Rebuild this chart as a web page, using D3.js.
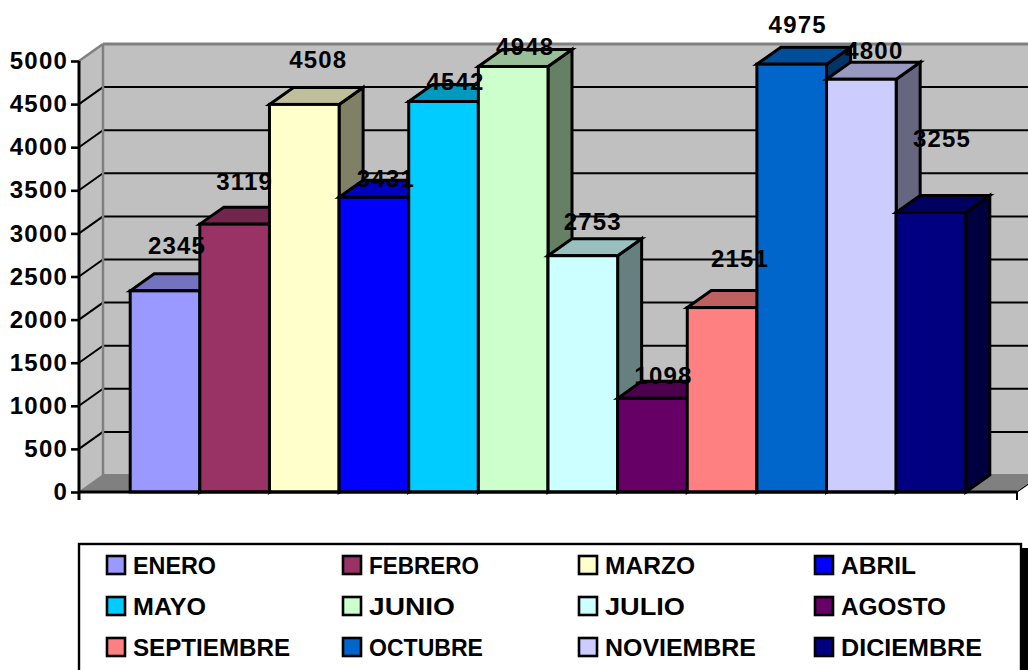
<!DOCTYPE html>
<html><head><meta charset="utf-8">
<script src="https://cdn.jsdelivr.net/npm/d3@7"></script>
<style>html,body{margin:0;padding:0;background:#fff;overflow:hidden}svg{display:block}
text{font-family:"Liberation Sans",Arial,sans-serif;font-weight:bold;fill:#000}</style></head>
<body><svg id="c" width="1028" height="670"></svg>
<script>
const months=["ENERO","FEBRERO","MARZO","ABRIL","MAYO","JUNIO","JULIO","AGOSTO","SEPTIEMBRE","OCTUBRE","NOVIEMBRE","DICIEMBRE"];
const values=[2345,3119,4508,3431,4542,4948,2753,1098,2151,4975,4800,3255];
const colors=["#9999FF","#993366","#FFFFCC","#0000FF","#00CCFF","#CCFFCC","#CCFFFF","#660066","#FF8080","#0066CC","#CCCCFF","#000080"];
const yTicks=[0,500,1000,1500,2000,2500,3000,3500,4000,4500,5000];

// manual label placement of the original chart: [dx, dy] from the bar's back-top centre
const labelNudge=[[0,-28],[-2,-25],[2,-27],[0,-1],[0,-2],[0,-2],[-2,-16],[-1,-5],[6,-31],[-6,-22],[1,-11],[-1,-56]];
// rendered legend text widths of the original's hinted type
const legendWidths=[83,110,90,75,73,86,80,105,157,114,151,141];

const svg=d3.select("#c");
const y=d3.scaleLinear().domain([0,5000]).range([492,61]);
const x=d3.scaleBand().domain(months).range([130.2,965.8]);
const dx=24,dy=-17,left=79,right=1017,base=y(0);
const shade=(c,k)=>{const r=d3.rgb(c);return d3.rgb(r.r*k,r.g*k,r.b*k).formatHex();};
const pts=a=>a.map(p=>p.join(",")).join(" ");
const ink="#000",lw=3;

// back wall, side wall, floor
svg.append("rect").attr("x",left+dx).attr("y",y(5000)+dy).attr("width",1028-left-dx).attr("height",base-y(5000))
  .attr("fill","#c0c0c0");
svg.append("polygon").attr("points",pts([[left,base],[left,y(5000)],[left+dx,y(5000)+dy],[left+dx,base+dy]])).attr("fill","#c0c0c0");
svg.append("polygon").attr("points",pts([[left,base],[left+dx,base+dy],[right+dx,base+dy],[right,base]])).attr("fill","#808080");

const gridTicks=yTicks.filter(t=>t>0&&t<5000);
svg.selectAll(".gb").data(gridTicks).join("line").attr("x1",left+dx).attr("x2",1028)
  .attr("y1",d=>y(d)+dy).attr("y2",d=>y(d)+dy).attr("stroke",ink).attr("stroke-width",2);
svg.selectAll(".gs").data(gridTicks).join("line").attr("x1",left).attr("x2",left+dx)
  .attr("y1",d=>y(d)).attr("y2",d=>y(d)+dy).attr("stroke",ink).attr("stroke-width",2);
const gray="#808080";
svg.append("line").attr("x1",left+dx).attr("x2",1028).attr("y1",y(5000)+dy).attr("y2",y(5000)+dy).attr("stroke",gray).attr("stroke-width",3);
svg.append("line").attr("x1",left+dx).attr("x2",left+dx).attr("y1",y(5000)+dy).attr("y2",base+dy).attr("stroke",gray).attr("stroke-width",2.5);
svg.append("line").attr("x1",left).attr("x2",left+dx).attr("y1",y(5000)).attr("y2",y(5000)+dy).attr("stroke",gray).attr("stroke-width",2.5);
svg.append("line").attr("x1",left+dx).attr("x2",1028).attr("y1",base+dy).attr("y2",base+dy).attr("stroke",gray).attr("stroke-width",2);
svg.append("line").attr("x1",left).attr("x2",left+dx).attr("y1",base).attr("y2",base+dy).attr("stroke",gray).attr("stroke-width",1.5);
svg.append("line").attr("x1",right).attr("x2",right+dx).attr("y1",base).attr("y2",base+dy).attr("stroke","#fff").attr("stroke-width",1.5);
svg.append("line").attr("x1",right).attr("x2",right+dx).attr("y1",base).attr("y2",base+dy).attr("stroke",ink).attr("stroke-width",1.2);

// bars (the original's front faces sit one pixel below the tick line)
const barTop=v=>y(v)+1;
const bars=svg.append("g").selectAll("g").data(months).join("g");
bars.each(function(m,i){
  const g=d3.select(this),x0=x(m),x1=x0+x.bandwidth(),t=barTop(values[i]);
  g.append("polygon").attr("points",pts([[x1,base],[x1+dx,base+dy],[x1+dx,t+dy],[x1,t]])).attr("fill",shade(colors[i],.5));
  g.append("polygon").attr("points",pts([[x0,t],[x0+dx,t+dy],[x1+dx,t+dy],[x1,t]])).attr("fill",shade(colors[i],.75));
  g.append("rect").attr("x",x0).attr("y",t).attr("width",x.bandwidth()).attr("height",base-t).attr("fill",colors[i]);
  g.selectAll("*").attr("stroke",ink).attr("stroke-width",lw).attr("stroke-linejoin","miter");
});

// axis
svg.append("line").attr("x1",left).attr("x2",right).attr("y1",base).attr("y2",base).attr("stroke",ink).attr("stroke-width",3);
svg.append("line").attr("x1",right).attr("x2",right).attr("y1",base).attr("y2",base+8).attr("stroke",ink).attr("stroke-width",2);
svg.append("line").attr("x1",left).attr("x2",left).attr("y1",base).attr("y2",base+8).attr("stroke",ink).attr("stroke-width",3);
const ax=svg.append("g").attr("transform",`translate(${left},0)`)
  .call(d3.axisLeft(y).tickValues(yTicks).tickSize(8).tickPadding(3).tickFormat(d3.format("d")));
ax.select(".domain").attr("stroke",ink).attr("stroke-width",3).attr("d",`M0,${y(5000)}V${base}`);
ax.selectAll(".tick line").attr("stroke",ink).attr("stroke-width",2.6);
ax.selectAll("text").attr("font-size",24).attr("letter-spacing",1.2).attr("fill",ink).style("font-family",'"Liberation Sans",Arial,sans-serif').style("font-weight","bold");

// data labels
svg.append("g").selectAll("text").data(values).join("text")
  .attr("x",(d,i)=>x(months[i])+x.bandwidth()/2+dx/2+labelNudge[i][0])
  .attr("y",(d,i)=>y(d)+dy+labelNudge[i][1])
  .attr("dy","0.36em").attr("text-anchor","middle").attr("font-size",24).attr("letter-spacing",1.2)
  .text(d=>d);

// legend
const legX=79,legY=544;
svg.append("rect").attr("x",1022).attr("y",548).attr("width",6).attr("height",122).attr("fill","#000");
svg.append("rect").attr("x",legX).attr("y",legY).attr("width",942).attr("height",140).attr("fill","#fff").attr("stroke",ink).attr("stroke-width",2.4);
const colX=d3.scalePoint().domain([0,1,2,3]).range([107,815]);
const rowY=d3.scalePoint().domain([0,1,2]).range([565,647]);
const leg=svg.append("g").selectAll("g").data(months).join("g")
  .attr("transform",(m,i)=>`translate(${colX(i%4)},${rowY(Math.floor(i/4))})`);
leg.append("rect").attr("x",0).attr("y",-9).attr("width",18).attr("height",18).attr("fill",(m,i)=>colors[i]).attr("stroke",ink).attr("stroke-width",2.6);
leg.append("text").attr("x",26).attr("dy","0.36em").attr("font-size",24)
  .attr("textLength",(m,i)=>legendWidths[i]).attr("lengthAdjust","spacingAndGlyphs").text(m=>m);
</script></body></html>
